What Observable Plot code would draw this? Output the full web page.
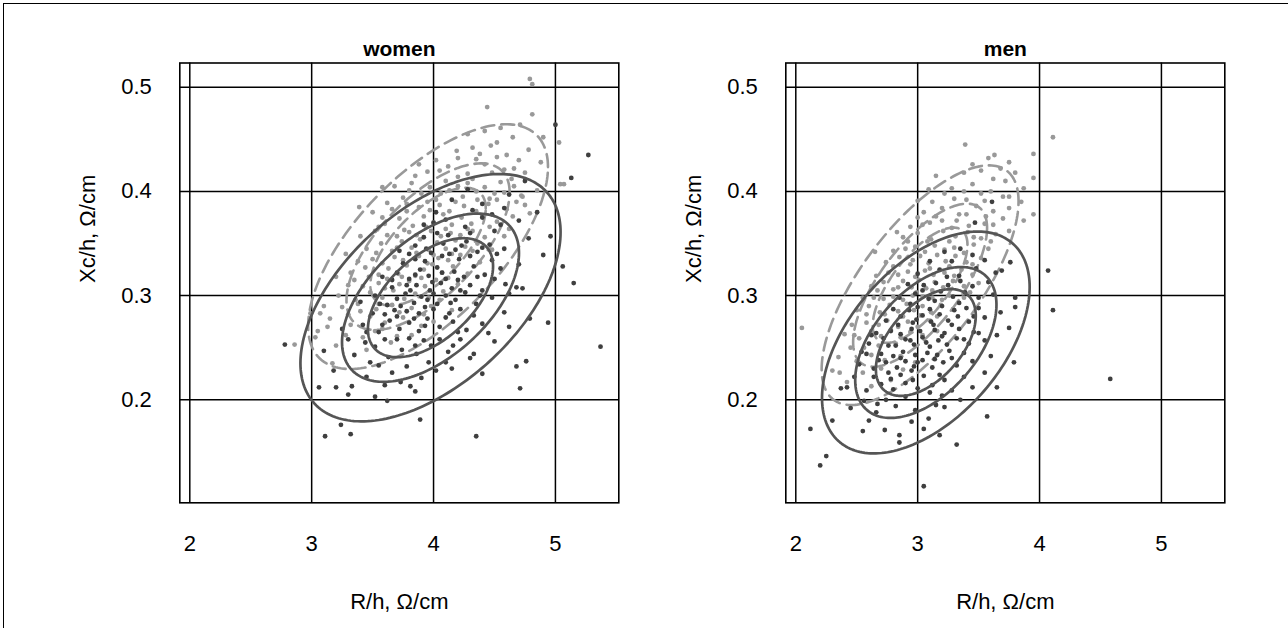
<!DOCTYPE html>
<html><head><meta charset="utf-8">
<script src="https://cdn.jsdelivr.net/npm/d3@7"></script>
<script src="https://cdn.jsdelivr.net/npm/@observablehq/plot@0.6"></script>
<style>
body{margin:0;background:#fff;}
#wrap{position:relative;width:1288px;height:628px;overflow:hidden;font-family:"Liberation Sans",Arial,sans-serif;background:#fff;}
#border{position:absolute;left:3px;top:3px;width:1400px;height:800px;border:1.5px solid #000;box-sizing:border-box;}
.panel{position:absolute;top:0;}
</style></head><body>
<div id="wrap"><div id="border"></div><div id="p0" class="panel" style="left:0px"></div><div id="p1" class="panel" style="left:606px"></div></div>
<script>
// axis ticks
const xTicks = [2, 3, 4, 5];
const yTicks = [0.2, 0.3, 0.4, 0.5];
const panels = ["women", "men"];
const xTitle = "R/h, Ω/cm";
const yTitle = "Xc/h, Ω/cm";

// tolerance ellipse parameters (solid = dark group, dashed = light group)
const ellipsePanel = ["women", "women", "men", "men"];
const ellipseGroup = ["dark", "light", "dark", "light"];
const meanR  = [3.975, 3.955, 3.067, 3.02];
const meanXc = [0.298, 0.347, 0.255, 0.31];
const sdR    = [0.436, 0.402, 0.348, 0.33];
const sdXc   = [0.0485, 0.048, 0.0435, 0.047];
const corr   = [0.53, 0.65, 0.5, 0.7];
const levels = [0.5, 0.75, 0.95];

// scatter points [R/h, Xc/h]
const womenDark = [
[5.27,0.435],[5.00,0.464],[5.13,0.413],[4.96,0.357],[4.90,0.339],[5.06,0.328],[5.15,0.312],[4.94,0.274],[4.79,0.278],[4.76,0.237],[4.68,0.232],[4.71,0.211],[4.35,0.165],[3.89,0.181],[3.32,0.167],[3.24,0.176],[3.11,0.165],[3.06,0.212],[3.20,0.212],[3.33,0.213],[3.52,0.203],[2.78,0.253],[4.33,0.244],[3.81,0.213],[3.73,0.217],[4.10,0.236],[4.16,0.252],[4.68,0.308],[4.73,0.307],[4.59,0.311],[5.37,0.251],
[3.30,0.205],[3.62,0.199],[3.85,0.208],
[3.18,0.228],[3.45,0.222],[3.66,0.226],[3.90,0.221],[4.15,0.230],[3.55,0.233],
[3.10,0.247],[3.35,0.243],[3.52,0.251],[3.63,0.241],[3.74,0.248],[3.86,0.244],[3.98,0.252],[4.12,0.246],[4.30,0.240],[3.44,0.255],
[3.25,0.268],[3.42,0.272],[3.55,0.265],[3.64,0.276],[3.72,0.268],[3.80,0.274],[3.88,0.266],[3.95,0.278],[4.05,0.270],[4.16,0.275],[4.27,0.267],[4.40,0.273],[3.60,0.282],[3.78,0.285],
[3.40,0.294],[3.52,0.300],[3.62,0.291],[3.70,0.297],[3.77,0.302],[3.84,0.293],[3.90,0.299],[3.97,0.305],[4.03,0.292],[4.10,0.300],[4.18,0.296],[4.26,0.303],[4.35,0.292],[4.48,0.298],[3.86,0.310],[4.06,0.312],
[3.58,0.318],[3.70,0.322],[3.80,0.316],[3.89,0.325],[3.96,0.319],[4.03,0.327],[4.10,0.316],[4.17,0.323],[4.25,0.318],[4.33,0.328],[4.42,0.320],[4.55,0.326],[3.93,0.333],[4.21,0.335],
[3.72,0.343],[3.85,0.348],[3.98,0.341],[4.08,0.350],[4.18,0.344],[4.27,0.352],[4.36,0.342],[4.46,0.349],[4.58,0.345],[4.12,0.358],
[3.92,0.368],[4.10,0.373],[4.26,0.366],[4.40,0.375],[4.55,0.368],[4.70,0.372],
[4.15,0.392],[4.40,0.388],[4.62,0.397],
[3.48,0.236],[3.78,0.232],[4.02,0.228],[4.40,0.225],
[3.30,0.258],[3.60,0.258],[3.80,0.259],[3.92,0.257],[4.22,0.258],[4.50,0.256],
[3.50,0.283],[3.68,0.286],[3.88,0.283],[4.00,0.287],[4.13,0.283],[4.33,0.281],[4.58,0.284],
[3.66,0.308],[3.78,0.310],[3.95,0.296],[4.15,0.307],[4.30,0.310],[4.40,0.305],[4.62,0.302],
[3.75,0.331],[3.85,0.335],[4.07,0.338],[4.30,0.338],[4.48,0.334],[4.70,0.330],
[3.92,0.356],[4.03,0.360],[4.30,0.360],[4.50,0.362],[4.78,0.355],
[4.02,0.380],[4.32,0.382],[4.58,0.384],[4.85,0.380],
[4.28,0.402],[4.75,0.410],
[3.58,0.272],[3.70,0.280],[3.84,0.278],[3.93,0.271],[4.10,0.279],[4.22,0.287],
[3.56,0.292],[3.73,0.290],[3.81,0.305],[3.93,0.289],[4.00,0.302],[4.14,0.293],[4.22,0.305],[4.38,0.300],
[3.66,0.315],[3.85,0.320],[3.99,0.313],[4.07,0.322],[4.20,0.315],[4.36,0.318],[4.50,0.316],
[3.80,0.340],[3.94,0.345],[4.13,0.340],[4.23,0.348],[4.40,0.346],[4.52,0.340],
[3.70,0.258],[3.85,0.252],[4.05,0.258],[4.20,0.265],[3.45,0.265],
[3.96,0.236],[3.60,0.214],[4.45,0.264],[4.62,0.270],[4.00,0.370],[4.48,0.378]
];
const womenLight = [
[4.79,0.508],[4.81,0.503],[4.44,0.481],[4.81,0.474],[4.71,0.464],[5.03,0.447],[5.07,0.407],[5.04,0.407],[3.58,0.404],[3.39,0.385],[4.73,0.395],[4.79,0.379],[3.07,0.283],[3.13,0.270],[2.99,0.283],[2.86,0.253],[3.03,0.260],[3.17,0.235],
[3.20,0.252],[3.45,0.248],[3.65,0.255],
[3.15,0.278],[3.32,0.272],[3.48,0.280],[3.60,0.274],[3.75,0.279],[3.90,0.271],[3.40,0.285],
[3.22,0.300],[3.36,0.296],[3.48,0.303],[3.58,0.298],[3.67,0.305],[3.76,0.297],[3.85,0.302],[3.96,0.298],[4.08,0.304],[3.30,0.310],[3.55,0.312],[3.80,0.314],
[3.32,0.322],[3.44,0.327],[3.55,0.320],[3.63,0.326],[3.71,0.321],[3.78,0.329],[3.85,0.319],[3.92,0.325],[3.99,0.330],[4.07,0.322],[4.16,0.328],[4.28,0.321],[3.50,0.335],[3.68,0.337],[3.88,0.338],[4.04,0.336],
[3.45,0.345],[3.57,0.350],[3.66,0.343],[3.74,0.352],[3.82,0.346],[3.89,0.354],[3.96,0.344],[4.03,0.351],[4.10,0.345],[4.18,0.353],[4.26,0.347],[4.36,0.350],[4.48,0.344],[3.62,0.358],[3.80,0.361],[3.98,0.362],[4.14,0.360],[4.32,0.362],
[3.60,0.369],[3.72,0.374],[3.83,0.367],[3.92,0.376],[4.00,0.370],[4.08,0.378],[4.15,0.368],[4.23,0.375],[4.31,0.369],[4.40,0.377],[4.52,0.371],[4.65,0.376],[3.88,0.385],[4.05,0.387],[4.25,0.386],[4.45,0.388],
[3.75,0.394],[3.90,0.398],[4.02,0.392],[4.13,0.401],[4.24,0.395],[4.35,0.400],[4.46,0.393],[4.58,0.399],[4.72,0.396],[4.10,0.410],[4.32,0.412],[4.55,0.409],
[3.95,0.419],[4.12,0.424],[4.28,0.417],[4.42,0.426],[4.58,0.421],[4.75,0.418],[4.20,0.432],
[4.19,0.439],[4.32,0.442],[4.47,0.444],[4.60,0.435],[4.65,0.452],
[3.28,0.262],[3.52,0.266],[3.70,0.261],[3.05,0.266],
[3.25,0.289],[3.38,0.292],[3.53,0.287],[3.66,0.291],[3.82,0.288],[3.98,0.290],[4.15,0.286],
[3.42,0.309],[3.62,0.316],[3.72,0.311],[3.93,0.309],[4.02,0.315],[4.20,0.311],[3.20,0.318],
[3.38,0.333],[3.58,0.331],[3.75,0.334],[3.95,0.331],[4.12,0.334],[4.22,0.339],[4.38,0.332],[3.28,0.340],
[3.40,0.357],[3.52,0.362],[3.70,0.357],[3.86,0.358],[4.06,0.357],[4.22,0.358],[4.42,0.356],[4.58,0.357],[3.55,0.366],
[3.50,0.380],[3.66,0.383],[3.78,0.381],[3.97,0.382],[4.13,0.381],[4.35,0.381],[4.60,0.383],[4.75,0.387],[3.62,0.389],
[3.68,0.405],[3.82,0.408],[3.97,0.404],[4.20,0.405],[4.42,0.404],[4.66,0.405],[4.85,0.401],[3.85,0.415],
[4.02,0.430],[4.35,0.431],[4.52,0.433],[4.70,0.430],[4.88,0.428],[3.88,0.426],
[4.28,0.455],[4.42,0.458],[4.55,0.461],[4.90,0.452],
[3.35,0.315],[3.47,0.318],[3.60,0.307],[3.74,0.318],[3.90,0.317],[4.12,0.317],
[3.53,0.341],[3.70,0.346],[3.86,0.341],[4.00,0.339],[4.15,0.340],[4.32,0.343],
[3.58,0.375],[3.76,0.363],[3.94,0.366],[4.10,0.364],[4.28,0.364],[4.46,0.366],[4.62,0.364],
[3.78,0.388],[3.95,0.390],[4.18,0.390],[4.36,0.392],[4.52,0.392],[4.68,0.390],
[3.80,0.401],[4.06,0.398],[4.28,0.408],[4.50,0.398],[4.64,0.412],
[4.05,0.420],[4.20,0.414],[4.48,0.418],[4.66,0.422],[4.38,0.436],[4.52,0.447],[4.78,0.440],
[3.30,0.282],[3.55,0.292],[3.72,0.284],[3.92,0.282],[4.05,0.296],
[3.10,0.290],[3.42,0.260],[3.58,0.268],[3.82,0.262],[4.00,0.275]
];
const menDark = [
[4.58,0.220],[4.11,0.286],[4.07,0.324],[2.12,0.172],[2.25,0.146],[2.20,0.137],[3.05,0.117],[3.32,0.157],[3.18,0.166],[2.85,0.159],[2.73,0.171],[2.95,0.179],[3.09,0.182],[3.22,0.193],[3.57,0.184],[2.30,0.180],[3.65,0.212],[3.79,0.236],[3.75,0.269],[3.80,0.289],[3.80,0.298],[3.76,0.332],[3.69,0.324],[3.61,0.390],[3.47,0.370],[3.35,0.345],[3.35,0.200],[2.37,0.211],[2.56,0.199],[2.67,0.196],
[2.55,0.170],[2.85,0.166],[3.05,0.172],
[2.45,0.192],[2.66,0.188],[2.82,0.194],[2.98,0.190],[3.15,0.195],[2.74,0.200],
[2.42,0.212],[2.58,0.209],[2.70,0.215],[2.80,0.210],[2.90,0.216],[3.00,0.211],[3.12,0.214],[3.28,0.209],[2.64,0.222],[2.86,0.224],[3.05,0.223],
[2.52,0.234],[2.64,0.230],[2.74,0.236],[2.83,0.231],[2.90,0.237],[2.97,0.232],[3.04,0.238],[3.12,0.231],[3.21,0.236],[3.32,0.233],[3.45,0.237],[2.70,0.244],[2.88,0.246],[3.08,0.245],[3.26,0.247],
[2.60,0.254],[2.72,0.259],[2.82,0.252],[2.90,0.258],[2.97,0.253],[3.04,0.260],[3.10,0.251],[3.17,0.257],[3.24,0.253],[3.32,0.259],[3.42,0.254],[3.55,0.257],[2.78,0.266],[2.95,0.268],[3.14,0.267],[3.34,0.268],
[2.74,0.276],[2.86,0.280],[2.96,0.274],[3.04,0.281],[3.11,0.275],[3.18,0.282],[3.25,0.276],[3.33,0.280],[3.42,0.275],[3.55,0.279],[3.00,0.289],[3.20,0.290],[3.40,0.288],
[2.85,0.298],[2.98,0.302],[3.09,0.297],[3.19,0.304],[3.29,0.299],[3.39,0.303],[3.50,0.298],[3.62,0.301],[3.15,0.312],[3.35,0.314],
[3.00,0.321],[3.18,0.325],[3.34,0.319],[3.48,0.326],[3.64,0.322],
[3.22,0.342],[3.45,0.339],
[2.48,0.222],[2.76,0.226],[2.95,0.228],[3.18,0.224],[3.38,0.222],
[2.58,0.244],[2.80,0.242],[2.98,0.243],[3.16,0.243],[3.38,0.245],[3.60,0.242],
[2.66,0.264],[2.86,0.263],[3.02,0.266],[3.22,0.264],[3.46,0.265],[3.65,0.262],
[2.80,0.287],[2.93,0.286],[3.10,0.287],[3.30,0.286],[3.50,0.288],[3.68,0.284],
[2.92,0.311],[3.05,0.310],[3.25,0.310],[3.45,0.309],[3.58,0.313],
[3.10,0.333],[3.28,0.333],[3.55,0.334],
[2.60,0.180],[2.90,0.203],[3.20,0.204],[3.45,0.212],[3.55,0.226],
[2.68,0.238],[2.86,0.240],[3.00,0.236],[3.14,0.239],[3.28,0.240],
[2.76,0.252],[2.94,0.257],[3.07,0.255],[3.20,0.261],[3.38,0.258],[3.50,0.264],
[2.84,0.272],[2.99,0.277],[3.13,0.272],[3.28,0.272],[3.46,0.280],
[2.78,0.220],[2.96,0.219],[3.10,0.207],[3.22,0.219],
[2.94,0.292],[3.14,0.295],[3.34,0.293],[3.04,0.305],[3.24,0.318],
[2.62,0.262],[2.54,0.246]
];
const menLight = [
[4.11,0.452],[3.39,0.445],[3.95,0.436],[3.63,0.435],[3.95,0.413],[3.95,0.378],[3.87,0.403],[2.05,0.269],[3.87,0.372],[3.75,0.395],[2.65,0.342],[2.83,0.361],[3.00,0.391],[3.09,0.402],
[2.42,0.217],[2.62,0.213],[2.78,0.219],
[2.35,0.241],[2.50,0.237],[2.62,0.243],[2.73,0.238],[2.86,0.242],[2.98,0.236],[2.45,0.250],
[2.40,0.263],[2.52,0.259],[2.62,0.266],[2.70,0.261],[2.78,0.267],[2.86,0.260],[2.94,0.265],[3.04,0.262],[3.16,0.266],[2.58,0.274],[2.75,0.276],[2.92,0.275],
[2.50,0.286],[2.60,0.290],[2.69,0.284],[2.77,0.291],[2.84,0.285],[2.91,0.292],[2.97,0.286],[3.04,0.290],[3.11,0.284],[3.19,0.291],[3.29,0.287],[2.64,0.298],[2.80,0.299],[2.96,0.300],[3.12,0.298],[3.26,0.300],
[2.62,0.309],[2.72,0.313],[2.80,0.306],[2.88,0.314],[2.95,0.308],[3.01,0.315],[3.07,0.307],[3.14,0.313],[3.21,0.308],[3.29,0.314],[3.38,0.309],[3.50,0.312],[2.76,0.322],[2.92,0.323],[3.06,0.324],[3.22,0.322],[3.36,0.325],
[2.74,0.332],[2.85,0.337],[2.94,0.330],[3.02,0.338],[3.09,0.331],[3.16,0.339],[3.23,0.333],[3.31,0.338],[3.40,0.332],[3.52,0.336],[2.98,0.347],[3.14,0.348],[3.30,0.346],[3.46,0.349],
[2.88,0.356],[3.00,0.360],[3.11,0.354],[3.21,0.362],[3.31,0.357],[3.41,0.361],[3.52,0.355],[3.64,0.359],[3.10,0.370],[3.32,0.372],[3.55,0.369],
[3.05,0.380],[3.20,0.384],[3.34,0.378],[3.48,0.386],[3.62,0.381],[3.75,0.384],[3.30,0.393],
[3.28,0.403],[3.45,0.407],[3.60,0.400],[3.72,0.410],
[2.30,0.228],[2.55,0.226],[2.70,0.230],[2.88,0.229],
[2.46,0.272],[2.68,0.272],[2.84,0.270],[3.00,0.270],[3.10,0.276],
[2.55,0.298],[2.72,0.297],[2.88,0.296],[3.04,0.299],[3.20,0.296],[3.38,0.298],
[2.66,0.319],[2.84,0.320],[2.98,0.318],[3.13,0.320],[3.30,0.319],[3.45,0.320],
[2.80,0.343],[2.90,0.345],[3.06,0.342],[3.22,0.344],[3.38,0.341],[3.58,0.345],
[2.94,0.366],[3.04,0.368],[3.20,0.372],[3.42,0.367],[3.62,0.368],[3.75,0.362],
[3.12,0.390],[3.40,0.392],[3.55,0.391],[3.70,0.395],[3.85,0.390],
[3.15,0.415],[3.38,0.418],[3.52,0.420],[3.68,0.422],[3.80,0.418],[3.58,0.432],[3.75,0.428],
[2.58,0.282],[2.73,0.282],[2.88,0.280],[3.02,0.281],[3.16,0.280],
[2.67,0.305],[2.84,0.308],[2.99,0.303],[3.12,0.305],[3.26,0.306],[3.43,0.303],
[2.80,0.328],[2.96,0.334],[3.10,0.326],[3.26,0.328],[3.45,0.330],
[2.92,0.352],[3.08,0.352],[3.26,0.352],[3.46,0.356],[3.60,0.352],
[3.00,0.375],[3.15,0.376],[3.28,0.365],[3.40,0.378],[3.56,0.376],[3.70,0.374],
[3.22,0.398],[3.38,0.400],[3.52,0.398],[3.62,0.412],[3.45,0.426],
[2.48,0.262],[2.56,0.250],[2.68,0.252],[2.82,0.254],[2.36,0.226]
];

const pointSets = {women: {dark: womenDark, light: womenLight}, men: {dark: menDark, light: menLight}};

function ellipsePoints(panel, group) {
  const out = [];
  ellipsePanel.forEach((p, i) => {
    if (p !== panel || ellipseGroup[i] !== group) return;
    levels.forEach(lv => {
      const k = Math.sqrt(-2 * Math.log(1 - lv));
      const s = Math.sqrt(1 - corr[i] * corr[i]);
      for (let j = 0; j <= 200; j++) {
        const t = 2 * Math.PI * j / 200;
        out.push({
          level: lv,
          x: meanR[i] + k * sdR[i] * Math.cos(t),
          y: meanXc[i] + k * sdXc[i] * (corr[i] * Math.cos(t) + s * Math.sin(t))
        });
      }
    });
  });
  return out;
}

function makePanel(name) {
  const pts = pointSets[name];
  return Plot.plot({
    width: 644, height: 628,
    marginLeft: 179.3, marginRight: 25.7, marginTop: 62.5, marginBottom: 125.7,
    x: {domain: [1.918, 5.52]},
    y: {domain: [0.1011, 0.5233]},
    style: {fontFamily: '"Liberation Sans", Arial, sans-serif', fontSize: "22px", color: "black", background: "transparent", overflow: "visible"},
    marks: [
      Plot.gridX(xTicks, {stroke: "black", strokeOpacity: 1, strokeWidth: 1.5}),
      Plot.gridY(yTicks, {stroke: "black", strokeOpacity: 1, strokeWidth: 1.5}),
      Plot.frame({stroke: "black", strokeWidth: 1.6}),
      Plot.axisX(xTicks, {tickSize: 0, tickPadding: 33, label: null, tickFormat: d => String(d)}),
      Plot.axisY(yTicks, {tickSize: 0, tickPadding: 28, label: null, tickFormat: d => d.toFixed(1)}),
      Plot.line(ellipsePoints(name, "light"), {x: "x", y: "y", z: "level", stroke: "#999999", strokeWidth: 2.6, strokeDasharray: "13,7"}),
      Plot.dot(pts.light, {x: d => d[0], y: d => d[1], r: 2.4, fill: "#999999", stroke: "none"}),
      Plot.dot(pts.dark, {x: d => d[0], y: d => d[1], r: 2.4, fill: "#3f3f3f", stroke: "none"}),
      Plot.line(ellipsePoints(name, "dark"), {x: "x", y: "y", z: "level", stroke: "#555555", strokeWidth: 2.7}),
      Plot.text([name], {text: d => d, frameAnchor: "top", dy: -22, fontWeight: "bold", fontSize: 21}),
      Plot.text([xTitle], {text: d => d, frameAnchor: "bottom", dy: 106}),
      Plot.text([yTitle], {text: d => d, frameAnchor: "left", dx: -92, rotate: -90})
    ]
  });
}

document.getElementById("p0").appendChild(makePanel(panels[0]));
document.getElementById("p1").appendChild(makePanel(panels[1]));
</script>
</body></html>
